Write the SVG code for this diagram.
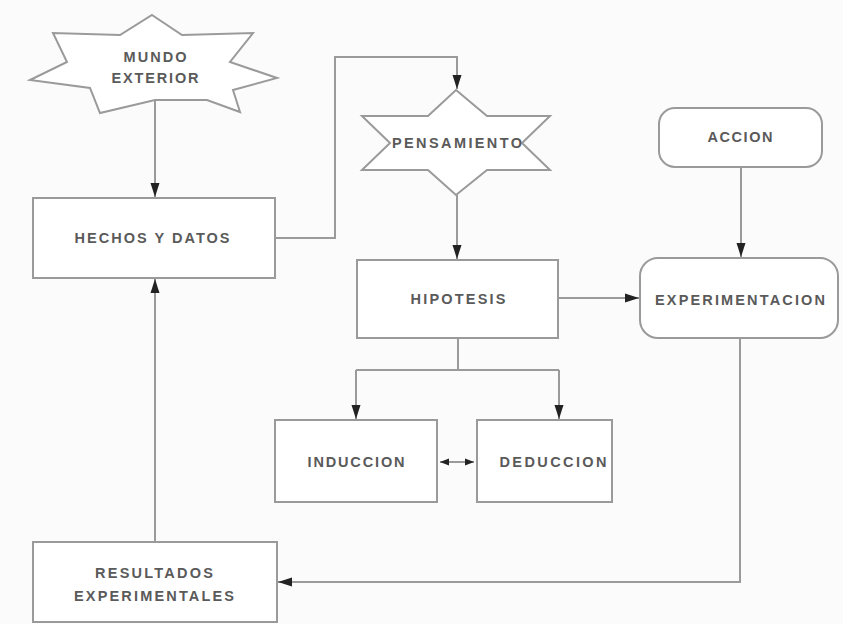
<svg xmlns="http://www.w3.org/2000/svg" width="843" height="624" viewBox="0 0 843 624">
<style>
.shape{fill:#ffffff;stroke:#9a9a9a;stroke-width:2}
.ln{fill:none;stroke:#9a9a9a;stroke-width:2}
.t{font-family:"Liberation Sans",Arial,sans-serif;font-size:14.5px;font-weight:bold;fill:#5a5a5a;text-anchor:middle}
</style>
<defs>
<marker id="arr" markerUnits="userSpaceOnUse" markerWidth="14" markerHeight="12" refX="14" refY="6" orient="auto-start-reverse" viewBox="0 0 14 12">
<path d="M0,1.5 L14,6 L0,10.5 z" fill="#222"/>
</marker>
<marker id="arrs" markerUnits="userSpaceOnUse" markerWidth="9" markerHeight="9" refX="9" refY="4.5" orient="auto-start-reverse" viewBox="0 0 9 9">
<path d="M0,1 L9,4.5 L0,8 z" fill="#222"/>
</marker>
</defs>
<rect width="843" height="624" fill="#fbfbfb"/>
<g id="connectors">
<path class="ln" d="M155,100 V197" marker-end="url(#arr)"/>
<path class="ln" d="M275,238 H335 V57 H457 V89" marker-end="url(#arr)"/>
<path class="ln" d="M457,195 V259" marker-end="url(#arr)"/>
<path class="ln" d="M741,167 V257" marker-end="url(#arr)"/>
<path class="ln" d="M558,298 H639" marker-end="url(#arr)"/>
<path class="ln" d="M458,338 V370"/>
<path class="ln" d="M356,370 H559"/>
<path class="ln" d="M356,370 V419" marker-end="url(#arr)"/>
<path class="ln" d="M559,370 V419" marker-end="url(#arr)"/>
<path class="ln" d="M440,462 H474" marker-start="url(#arrs)" marker-end="url(#arrs)"/>
<path class="ln" d="M740,338 V582 H278" marker-end="url(#arr)"/>
<path class="ln" d="M155,542 V279" marker-end="url(#arr)"/>
</g>
<g id="mundo">
<polygon class="shape" points="152,15 182,35 253,33 230,62 277,78 233,90 240,112 207,100 155,100 100,113 90,88 30,80 67,62 53,33 120,35"/>
<text class="t" x="155" y="62" textLength="63" lengthAdjust="spacing">MUNDO</text>
<text class="t" x="155" y="83" textLength="87" lengthAdjust="spacing">EXTERIOR</text>
</g>
<g id="hechos">
<rect class="shape" x="33" y="198" width="242" height="80"/>
<text class="t" x="152" y="243" textLength="155" lengthAdjust="spacing">HECHOS Y DATOS</text>
</g>
<g id="pensamiento">
<polygon class="shape" points="456,90 487,116 550,116 522,143 550,170 487,170 456,195 428,170 362,170 390,143 362,116 428,116"/>
<text class="t" x="457" y="148" textLength="130" lengthAdjust="spacing">PENSAMIENTO</text>
</g>
<g id="hipotesis">
<rect class="shape" x="357" y="260" width="201" height="78"/>
<text class="t" x="458" y="304" textLength="95" lengthAdjust="spacing">HIPOTESIS</text>
</g>
<g id="accion">
<rect class="shape" x="659" y="108" width="163" height="59" rx="16"/>
<text class="t" x="740" y="142" textLength="65" lengthAdjust="spacing">ACCION</text>
</g>
<g id="experimentacion">
<rect class="shape" x="640" y="258" width="198" height="80" rx="18"/>
<text class="t" x="740" y="305" textLength="170" lengthAdjust="spacing">EXPERIMENTACION</text>
</g>
<g id="induccion">
<rect class="shape" x="275" y="420" width="162" height="82"/>
<text class="t" x="356" y="467" textLength="97" lengthAdjust="spacing">INDUCCION</text>
</g>
<g id="deduccion">
<rect class="shape" x="477" y="420" width="135" height="82"/>
<text class="t" x="553" y="467" textLength="107" lengthAdjust="spacing">DEDUCCION</text>
</g>
<g id="resultados">
<rect class="shape" x="33" y="542" width="244" height="80"/>
<text class="t" x="154" y="578" textLength="118" lengthAdjust="spacing">RESULTADOS</text>
<text class="t" x="154" y="601" textLength="160" lengthAdjust="spacing">EXPERIMENTALES</text>
</g>
</svg>
